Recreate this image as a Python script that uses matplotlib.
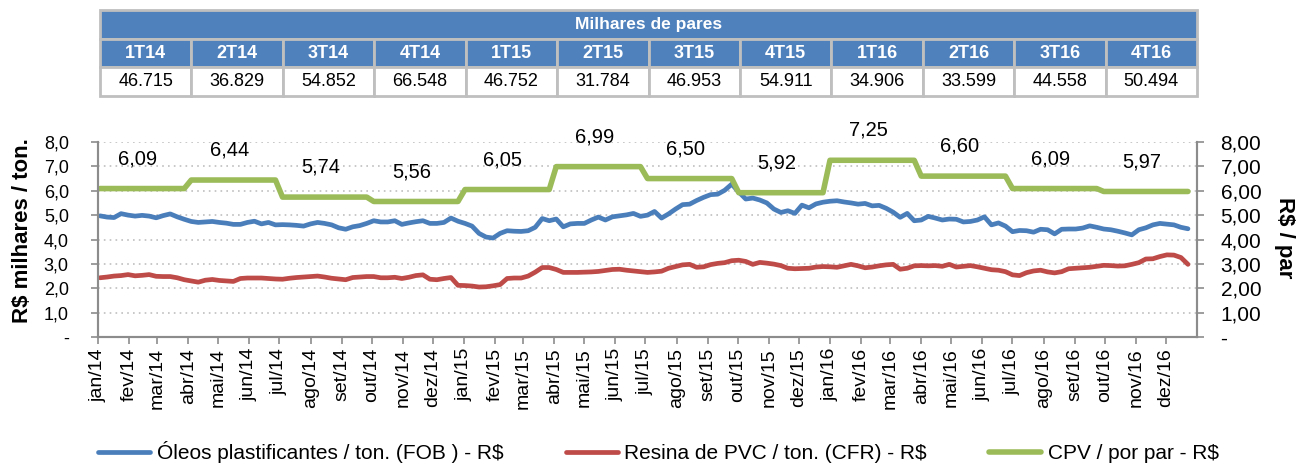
import numpy as np
import pandas as pd
import matplotlib
matplotlib.use("Agg")
import matplotlib.pyplot as plt
from matplotlib.patches import Rectangle

plt.rcParams['font.family'] = ['Liberation Sans', 'DejaVu Sans']

# tabela de pares por trimestre
trimestres = ['1T14', '2T14', '3T14', '4T14', '1T15', '2T15', '3T15', '4T15',
              '1T16', '2T16', '3T16', '4T16']
pares = ['46.715', '36.829', '54.852', '66.548', '46.752', '31.784', '46.953', '54.911',
         '34.906', '33.599', '44.558', '50.494']

# CPV por par, um valor por trimestre (13 semanas cada)
cpv = [6.09, 6.44, 5.74, 5.56, 6.05, 6.99, 6.50, 5.92, 7.25, 6.60, 6.09, 5.97]

# series semanais (R$ mil / ton.)
oleos = [4.97, 4.92, 4.90, 5.06, 5.00, 4.96, 4.99, 4.96, 4.89, 4.98, 5.05, 4.93, 4.83,
         4.74, 4.70, 4.72, 4.74, 4.70, 4.67, 4.62, 4.62, 4.70, 4.75, 4.64, 4.70, 4.60,
         4.61, 4.60, 4.58, 4.55, 4.64, 4.70, 4.66, 4.60, 4.48, 4.42, 4.52, 4.57, 4.66,
         4.77, 4.72, 4.72, 4.77, 4.62, 4.68, 4.73, 4.77, 4.66, 4.66, 4.70, 4.88, 4.75,
         4.66, 4.55, 4.25, 4.10, 4.06, 4.25, 4.36, 4.34, 4.33, 4.36, 4.50, 4.86, 4.77,
         4.84, 4.52, 4.64, 4.66, 4.66, 4.80, 4.92, 4.80, 4.93, 4.97, 5.01, 5.07, 4.95,
         5.00, 5.15, 4.88, 5.05, 5.25, 5.43, 5.45, 5.60, 5.73, 5.84, 5.86, 6.02, 6.27,
         5.95, 5.66, 5.70, 5.62, 5.50, 5.25, 5.11, 5.18, 5.07, 5.41, 5.30, 5.46, 5.53,
         5.57, 5.59, 5.54, 5.50, 5.45, 5.48, 5.38, 5.40, 5.28, 5.12, 4.91, 5.07, 4.77,
         4.80, 4.95, 4.88, 4.80, 4.84, 4.83, 4.72, 4.74, 4.80, 4.93, 4.60, 4.68, 4.55,
         4.32, 4.37, 4.36, 4.30, 4.42, 4.40, 4.23, 4.42, 4.43, 4.43, 4.47, 4.56, 4.50,
         4.43, 4.40, 4.34, 4.27, 4.19, 4.40, 4.48, 4.60, 4.66, 4.63, 4.60, 4.50, 4.44]
resina = [2.43, 2.46, 2.50, 2.52, 2.56, 2.51, 2.53, 2.56, 2.49, 2.48, 2.48, 2.43, 2.35,
          2.30, 2.25, 2.33, 2.36, 2.32, 2.30, 2.28, 2.40, 2.42, 2.42, 2.42, 2.40, 2.38,
          2.37, 2.41, 2.44, 2.46, 2.48, 2.50, 2.46, 2.41, 2.38, 2.35, 2.44, 2.46, 2.48,
          2.48, 2.43, 2.43, 2.45, 2.40, 2.45, 2.52, 2.55, 2.37, 2.35, 2.40, 2.44, 2.12,
          2.11, 2.09, 2.05, 2.06, 2.10, 2.15, 2.40, 2.42, 2.42, 2.50, 2.66, 2.85, 2.85,
          2.77, 2.65, 2.65, 2.65, 2.66, 2.67, 2.69, 2.73, 2.77, 2.78, 2.74, 2.71, 2.68,
          2.65, 2.67, 2.70, 2.82, 2.89, 2.96, 2.98, 2.86, 2.88, 2.97, 3.02, 3.05, 3.13,
          3.15, 3.10, 2.98, 3.06, 3.03, 2.99, 2.93, 2.82, 2.80, 2.81, 2.82, 2.87, 2.89,
          2.88, 2.86, 2.92, 2.98, 2.92, 2.84, 2.87, 2.92, 2.96, 2.98, 2.78, 2.82, 2.92,
          2.93, 2.92, 2.93, 2.90, 2.98, 2.87, 2.90, 2.93, 2.88, 2.82, 2.76, 2.74, 2.68,
          2.55, 2.52, 2.64, 2.71, 2.74, 2.67, 2.63, 2.68, 2.80, 2.82, 2.84, 2.86, 2.90,
          2.94, 2.93, 2.91, 2.92, 2.98, 3.05, 3.20, 3.21, 3.30, 3.37, 3.36, 3.26, 2.98]

meses = ['jan', 'fev', 'mar', 'abr', 'mai', 'jun', 'jul', 'ago', 'set', 'out', 'nov', 'dez']

semanas = pd.date_range('2014-01-03', periods=len(oleos), freq='7D')
cpv_semanal = np.repeat(cpv, 13)
inicio_mes = pd.date_range('2014-01-01', periods=36, freq='MS')

AZUL = '#4A7EBB'
VERMELHO = '#BE4B48'
VERDE = '#9BBB59'
CINZA = '#8C8C8C'

fig = plt.figure(figsize=(13.09, 4.65), dpi=100)
ax = fig.add_axes([98 / 1309, 1 - 337 / 465, 1099 / 1309, 195 / 465])
ax2 = ax.twinx()

l1, = ax.plot(semanas, oleos, color=AZUL, lw=3.4, solid_capstyle='round', solid_joinstyle='round')
l2, = ax.plot(semanas, resina, color=VERMELHO, lw=3.4, solid_capstyle='round', solid_joinstyle='round')
l3, = ax2.plot(semanas, cpv_semanal, color=VERDE, lw=4.0, solid_capstyle='round', solid_joinstyle='round')

for i, v in enumerate(cpv):
    ax2.annotate(f'{v:.2f}'.replace('.', ','), (semanas[13 * i + 6], v), xytext=(-3, 21.5),
                 textcoords='offset points', ha='center', va='center', fontsize=14.5,
                 annotation_clip=False)

ax.set_xlim(pd.Timestamp('2014-01-01'), pd.Timestamp('2017-01-01'))
for a in (ax, ax2):
    a.set_ylim(0, 8)
    a.set_yticks(range(9))
ax.set_yticklabels(['-'] + [f'{v},0' for v in range(1, 9)], fontsize=13)
ax2.set_yticklabels(['-'] + [f'{v},00' for v in range(1, 9)], fontsize=15)
ax.set_xticks(inicio_mes)
ax.set_xticklabels([f'{meses[d.month - 1]}/{d.year % 100:02d}' for d in inicio_mes],
                   rotation=90, fontsize=14)

ax.yaxis.grid(True, linestyle=(0, (1, 2.5)), color='#BFBFBF', lw=1.2)
ax.set_axisbelow(True)
for a in (ax, ax2):
    a.spines['top'].set_visible(False)
    for s in ('left', 'right', 'bottom'):
        a.spines[s].set_color(CINZA)
        a.spines[s].set_linewidth(1.5)
    a.tick_params(color=CINZA, width=1.2, length=5)
ax.tick_params(axis='y', pad=16)
ax2.tick_params(axis='y', pad=12)
ax.tick_params(axis='x', pad=3)

ax.text(-0.069, 0.545, 'R\\$ milhares / ton.', transform=ax.transAxes, rotation=90,
        ha='center', va='center', fontsize=16, fontweight='bold')
ax.text(1.08, 0.51, 'R\\$ / par', transform=ax.transAxes, rotation=270,
        ha='center', va='center', fontsize=16, fontweight='bold')

fig.legend([l1, l2, l3],
           ['Óleos plastificantes / ton. (FOB ) - R\\$', 'Resina de PVC / ton. (CFR) - R\\$',
            'CPV / por par - R\\$'],
           loc='center', bbox_to_anchor=(0.503, 0.028), ncol=3, frameon=False, fontsize=15,
           handlelength=2.5, handletextpad=0.3, columnspacing=3.0)

# tabela superior
tab = fig.add_axes([100 / 1309, 1 - 96 / 465, 1097 / 1309, 86 / 465])
tab.set_xlim(0, 12)
tab.set_ylim(0, 3)
tab.axis('off')
AZUL_TAB = '#4F81BD'
BORDA = '#BFBFBF'
tab.add_patch(Rectangle((0, 2), 12, 1, fc=AZUL_TAB, ec=BORDA, lw=2, clip_on=False))
tab.text(6, 2.5, 'Milhares de pares', ha='center', va='center', color='white',
         fontsize=12.5, fontweight='bold')
for i, (q, p) in enumerate(zip(trimestres, pares)):
    tab.add_patch(Rectangle((i, 1), 1, 1, fc=AZUL_TAB, ec=BORDA, lw=2, clip_on=False))
    tab.add_patch(Rectangle((i, 0), 1, 1, fc='white', ec=BORDA, lw=2, clip_on=False))
    tab.text(i + 0.5, 1.5, q, ha='center', va='center', color='white', fontsize=13,
             fontweight='bold')
    tab.text(i + 0.5, 0.5, p, ha='center', va='center', color='black', fontsize=13)

fig.savefig('out.png', dpi=100)
